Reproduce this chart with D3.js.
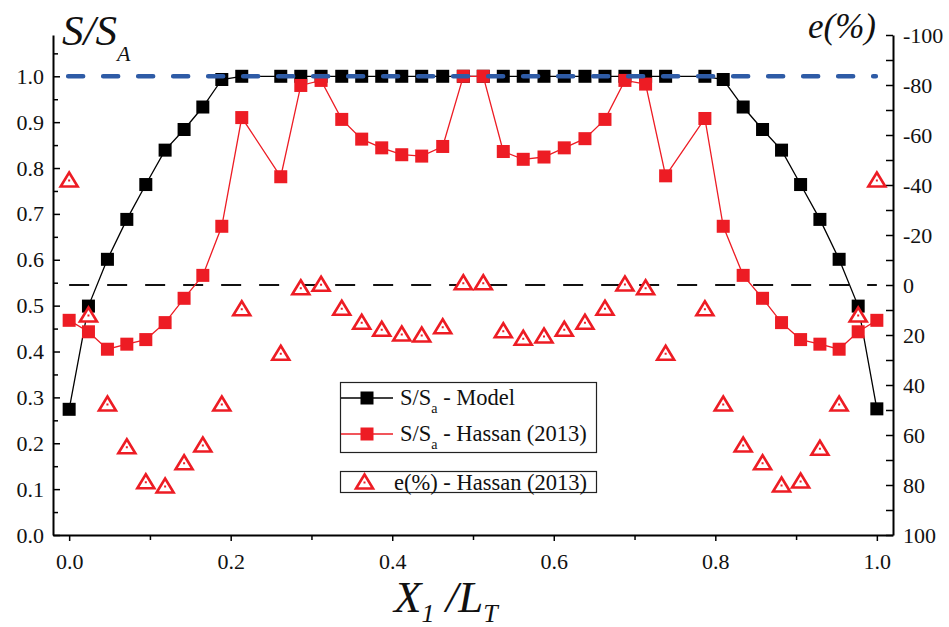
<!DOCTYPE html>
<html><head><meta charset="utf-8">
<script src="https://cdn.jsdelivr.net/npm/d3@7"></script>
<style>body{margin:0;background:#fff} svg{display:block} svg text{font-family:"Liberation Serif","Times New Roman",Times,"DejaVu Serif",serif !important}</style>
</head><body><svg id="c" width="949" height="627"></svg>
<script>
// ---- data ----
const xPos = [0, 0.0239, 0.0474, 0.0714, 0.0949, 0.1188, 0.1423, 0.1655, 0.189, 0.2137,
  0.262, 0.2868, 0.3119, 0.3375, 0.3622, 0.387, 0.4118, 0.4365, 0.4625, 0.488,
  0.5127, 0.5375, 0.5622, 0.5879, 0.613, 0.6386, 0.6634, 0.6881, 0.7137, 0.7385,
  0.7871, 0.8098, 0.8345, 0.8585, 0.882, 0.9056, 0.9295, 0.9533, 0.9769, 1.0];
const modelS = [0.274, 0.499, 0.601, 0.688, 0.764, 0.839, 0.884, 0.933, 0.993, 1.0,
  1.0, 1.0, 1.0, 1.0, 1.0, 1.0, 1.0, 1.0, 1.0, 1.0,
  1.0, 1.0, 1.0, 1.0, 1.0, 1.0, 1.0, 1.0, 1.0, 1.0,
  1.0, 0.993, 0.933, 0.884, 0.839, 0.764, 0.688, 0.601, 0.499, 0.275];
const hassanS = [0.468, 0.443, 0.405, 0.416, 0.426, 0.463, 0.516, 0.566, 0.673, 0.910,
  0.781, 0.980, 0.991, 0.906, 0.863, 0.844, 0.829, 0.826, 0.847, 1.0,
  1.0, 0.836, 0.819, 0.824, 0.844, 0.864, 0.906, 0.991, 0.983, 0.783,
  0.908, 0.673, 0.566, 0.516, 0.463, 0.426, 0.416, 0.405, 0.443, 0.468];
const hassanE = [-42, 12, 47.6, 64.7, 78.7, 80.4, 71.1, 64, 47.6, 9.5,
  27.3, 1.1, -0.3, 9.3, 14.9, 17.7, 19.6, 20, 16.7, -0.9,
  -0.9, 18.3, 21.3, 20.4, 17.7, 14.9, 9.3, -0.4, 1.1, 27.3,
  9.5, 47.6, 64, 71.1, 80, 78.4, 65.3, 47.6, 12, -42];
const xTicks = [0, 0.2, 0.4, 0.6, 0.8, 1.0];
const xMinor = [0.1, 0.3, 0.5, 0.7, 0.9];
const leftTicks = [0, 0.1, 0.2, 0.3, 0.4, 0.5, 0.6, 0.7, 0.8, 0.9, 1.0];
const leftMinor = [0.05, 0.15, 0.25, 0.35, 0.45, 0.55, 0.65, 0.75, 0.85, 0.95, 1.05];
const rightTicks = [-100, -80, -60, -40, -20, 0, 20, 40, 60, 80, 100];
const rightMinor = [-90, -70, -50, -30, -10, 10, 30, 50, 70, 90];
const refS = 1.0;   // blue dashed reference on S/SA axis
const refE = 0;     // black dashed reference on e axis

// ---- layout ----
const L = 53, R = 893, T = 35, B = 535;
const RED = "#ED1C24", BLUE = "#2E5BA6";
const serif = "Liberation Serif";
const svg = d3.select("#c");
svg.append("rect").attr("width", 949).attr("height", 627).attr("fill", "#fff");

const x = d3.scaleLinear().domain([-0.02, 1.02]).range([L, R]);
const yL = d3.scaleLinear().domain([0, 1.09]).range([B, T]);
const yR = d3.scaleLinear().domain([-100, 100]).range([T, B]);

// ---- axes ----
function styleAxis(g) {
  g.attr("font-family", null);
  g.select(".domain").attr("stroke", "#000").attr("stroke-width", 2);
  g.selectAll(".tick line").attr("stroke", "#000").attr("stroke-width", 1.5);
  g.selectAll("text").style("font-family", serif).attr("font-size", 22).attr("fill", "#111");
}
const gx = svg.append("g").attr("transform", `translate(0,${B})`)
  .call(d3.axisBottom(x).tickValues(xTicks).tickFormat(d3.format(".1f")).tickSizeInner(6).tickSizeOuter(0).tickPadding(12));
styleAxis(gx);
svg.append("g").attr("transform", `translate(0,${B})`)
  .call(d3.axisBottom(x).tickValues(xMinor).tickFormat("").tickSizeInner(5).tickSizeOuter(0))
  .call(g => { g.select(".domain").remove(); g.selectAll("line").attr("stroke", "#000").attr("stroke-width", 1.5); });

const gl = svg.append("g").attr("transform", `translate(${L},0)`)
  .call(d3.axisLeft(yL).tickValues(leftTicks).tickFormat(d3.format(".1f")).tickSizeInner(-7).tickSizeOuter(0).tickPadding(10));
styleAxis(gl);
gl.selectAll("text").attr("x", -9);
svg.append("g").attr("transform", `translate(${L},0)`)
  .call(d3.axisLeft(yL).tickValues(leftMinor).tickFormat("").tickSizeInner(-5).tickSizeOuter(0))
  .call(g => { g.select(".domain").remove(); g.selectAll("line").attr("stroke", "#000").attr("stroke-width", 1.5); });

const gr = svg.append("g").attr("transform", `translate(${R},0)`)
  .call(d3.axisRight(yR).tickValues(rightTicks).tickFormat(d => d < 0 ? "-" + Math.abs(d) : String(d)).tickSizeInner(-7).tickSizeOuter(0));
styleAxis(gr);
gr.selectAll("text").attr("x", 10);
svg.append("g").attr("transform", `translate(${R},0)`)
  .call(d3.axisRight(yR).tickValues(rightMinor).tickFormat("").tickSizeInner(-7).tickSizeOuter(0))
  .call(g => { g.select(".domain").remove(); g.selectAll("line").attr("stroke", "#000").attr("stroke-width", 1.5); });

// ---- reference lines ----
svg.append("line").attr("x1", x(0)).attr("x2", x(1)).attr("y1", yR(refE)).attr("y2", yR(refE))
  .attr("stroke", "#111").attr("stroke-width", 2).attr("stroke-dasharray", "20,18");

// ---- series ----
const pts = xPos.map((v, i) => ({x: v, m: modelS[i], h: hassanS[i], e: hassanE[i]}));
svg.append("path").datum(pts).attr("fill", "none").attr("stroke", "#000").attr("stroke-width", 1.3)
  .attr("d", d3.line().x(d => x(d.x)).y(d => yL(d.m)));
svg.append("g").selectAll("rect").data(pts).join("rect")
  .attr("x", d => x(d.x) - 6.5).attr("y", d => yL(d.m) - 6.5).attr("width", 13).attr("height", 13)
  .attr("fill", "#000");
svg.append("path").datum(pts).attr("fill", "none").attr("stroke", RED).attr("stroke-width", 1.3)
  .attr("d", d3.line().x(d => x(d.x)).y(d => yL(d.h)));
svg.append("g").selectAll("rect").data(pts).join("rect")
  .attr("x", d => x(d.x) - 6.5).attr("y", d => yL(d.h) - 6.5).attr("width", 13).attr("height", 13)
  .attr("fill", RED);

svg.append("line").attr("x1", x(0)).attr("x2", x(1)).attr("y1", yL(refS)).attr("y2", yL(refS))
  .attr("stroke", BLUE).attr("stroke-width", 4.5).attr("stroke-dasharray", "15,20").attr("stroke-linecap", "round")
  .attr("transform", "translate(-1,0)");

const tri = "M0,-7.5 L8.5,6.5 L-8.5,6.5 Z";
function triangle(g, cx, cy) {
  g.append("path").attr("d", tri).attr("transform", `translate(${cx},${cy})`)
    .attr("fill", "#fff").attr("stroke", RED).attr("stroke-width", 2.6).attr("stroke-linejoin", "miter");
  g.append("rect").attr("x", cx - 1).attr("y", cy - 0.5).attr("width", 2).attr("height", 2).attr("fill", RED);
}
const gt = svg.append("g");
pts.forEach(d => triangle(gt, x(d.x), yR(d.e)));

// ---- legend ----
const lg = svg.append("g").attr("fill", "#111");
lg.append("rect").attr("x", 340.5).attr("y", 382.5).attr("width", 256).attr("height", 70)
  .attr("fill", "#fff").attr("stroke", "#222").attr("stroke-width", 1.2);
lg.append("rect").attr("x", 340.5).attr("y", 471.5).attr("width", 256).attr("height", 21)
  .attr("fill", "#fff").attr("stroke", "#222").attr("stroke-width", 1.2);
[[398, "#000", " - Model"], [434, RED, " - Hassan (2013)"]].forEach(([yy, c, lab]) => {
  lg.append("line").attr("x1", 341).attr("x2", 393).attr("y1", yy).attr("y2", yy).attr("stroke", c).attr("stroke-width", 1.3);
  lg.append("rect").attr("x", 367 - 6.5).attr("y", yy - 6.5).attr("width", 13).attr("height", 13).attr("fill", c);
  const t = lg.append("text").attr("x", 400).attr("y", yy + 7).attr("font-size", 22.5).style("font-family", serif);
  t.append("tspan").text("S/S");
  t.append("tspan").attr("font-size", 14).attr("dy", 8).text("a");
  t.append("tspan").attr("dy", -8).text(lab);
});
triangle(lg, 364.5, 482);
lg.append("text").attr("x", 394).attr("y", 490).attr("font-size", 22.5).style("font-family", serif).text("e(%) - Hassan (2013)");

// ---- axis titles ----
const t1 = svg.append("text").attr("x", 62).attr("y", 45).style("font-family", serif)
  .attr("font-style", "italic").attr("font-size", 43).attr("fill", "#111");
t1.append("tspan").text("S/S");
t1.append("tspan").attr("font-size", 22).attr("dy", 16).text("A");

svg.append("text").attr("x", 876).attr("y", 38).attr("text-anchor", "end").style("font-family", serif)
  .attr("font-style", "italic").attr("font-size", 35).attr("fill", "#111").text("e(%)");

const t3 = svg.append("text").attr("x", 394).attr("y", 612).style("font-family", serif)
  .attr("font-style", "italic").attr("font-size", 45).attr("fill", "#111");
t3.append("tspan").text("X");
t3.append("tspan").attr("font-size", 26).attr("dy", 10).text("1");
t3.append("tspan").attr("dy", -10).text(" /L");
t3.append("tspan").attr("font-size", 26).attr("dy", 10).text("T");
</script>
</body></html>
